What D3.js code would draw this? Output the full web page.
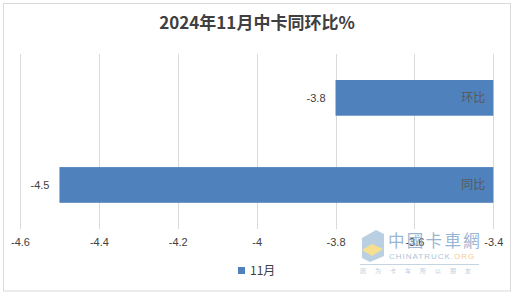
<!DOCTYPE html>
<html>
<head>
<meta charset="utf-8">
<script src="https://cdn.jsdelivr.net/npm/d3@7"></script>
<style>
  body { margin: 0; background: #fff; }
  svg text { font-family: "Noto Sans CJK SC", "Liberation Sans", sans-serif; }
</style>
</head>
<body>
<svg id="chart"></svg>
<script>
// data
var categories = ["环比", "同比"];
var values = [-3.8, -4.5];
var xTicks = [-4.6, -4.4, -4.2, -4, -3.8, -3.6, -3.4];
var seriesName = "11月";
var chartTitle = "2024年11月中卡同环比%";

var W = 516, H = 299;
var svg = d3.select("#chart").attr("width", W).attr("height", H);

svg.append("rect")
    .attr("x", 0).attr("y", 0).attr("width", W).attr("height", H)
    .attr("fill", "#fff");

// outer frame
svg.append("rect")
    .attr("x", 3.5).attr("y", 3.5)
    .attr("width", 507).attr("height", 287.5)
    .attr("fill", "none")
    .attr("stroke", "#d9d9d9");

svg.append("text")
    .attr("x", 257).attr("y", 29)
    .attr("text-anchor", "middle")
    .attr("font-size", 17)
    .attr("font-weight", "bold")
    .attr("fill", "#404040")
    .text(chartTitle);

// scales
var xScale = d3.scaleLinear()
    .domain([-4.6, -3.4])
    .range([20, 493.3]);

var yScale = d3.scaleBand()
    .domain(categories)
    .range([54.3, 228.5])
    .paddingInner(0.59)
    .paddingOuter(0.295);

// gridlines
svg.append("g").selectAll("line").data(xTicks)
    .enter().append("line")
    .attr("x1", function(d){ return Math.round(xScale(d)) + 0.5; })
    .attr("x2", function(d){ return Math.round(xScale(d)) + 0.5; })
    .attr("y1", 54)
    .attr("y2", 229)
    .attr("stroke", "#d9d9d9")
    .attr("stroke-width", 1);

// x axis labels
var xAxis = d3.axisBottom(xScale)
    .tickValues(xTicks)
    .tickSize(0)
    .tickPadding(9)
    .tickFormat(function(d){ return d3.format("")(d).replace("−", "-"); });

var xAxisG = svg.append("g")
    .attr("transform", "translate(0,229)")
    .call(xAxis);
xAxisG.select(".domain").remove();
xAxisG.selectAll("text")
    .attr("font-size", 11)
    .attr("fill", "#404040")
    .style("font-family", "'Liberation Sans', sans-serif");

// bars, anchored at the right edge of the axis
var base = xScale.domain()[1];
svg.append("g").selectAll("rect").data(values)
    .enter().append("rect")
    .attr("x", function(d){ return xScale(d); })
    .attr("y", function(d, i){ return yScale(categories[i]); })
    .attr("width", function(d){ return xScale(base) - xScale(d); })
    .attr("height", yScale.bandwidth())
    .attr("fill", "#4f81bd");

// value labels
svg.append("g").selectAll("text").data(values)
    .enter().append("text")
    .attr("x", function(d){ return xScale(d) - 10; })
    .attr("y", function(d, i){ return yScale(categories[i]) + yScale.bandwidth() / 2; })
    .attr("dy", "0.35em")
    .attr("text-anchor", "end")
    .attr("font-size", 11)
    .attr("fill", "#404040")
    .style("font-family", "'Liberation Sans', sans-serif")
    .text(function(d){ return d; });

// category labels inside bars
svg.append("g").selectAll("text").data(categories)
    .enter().append("text")
    .attr("x", xScale(base) - 8)
    .attr("y", function(d){ return yScale(d) + yScale.bandwidth() / 2; })
    .attr("dy", "0.35em")
    .attr("text-anchor", "end")
    .attr("font-size", 12)
    .attr("fill", "#595959")
    .text(function(d){ return d; });

// legend
var legendG = svg.append("g").attr("transform", "translate(238,267)");
legendG.append("rect")
    .attr("x", 0).attr("y", 0).attr("width", 7).attr("height", 7)
    .attr("fill", "#4f81bd");
legendG.append("text")
    .attr("x", 12).attr("y", 4)
    .attr("dy", "0.35em")
    .attr("font-size", 12)
    .attr("fill", "#404040")
    .text(seriesName);

// watermark (faint)
var wm = svg.append("g").attr("opacity", 0.8);
wm.append("path")
    .attr("d", "M362 238 L376 230 L384 234 L384 256 L370 262 L362 258 Z")
    .attr("fill", "#a9c4dc");
wm.append("path")
    .attr("d", "M362 250 L372 244 L383 249 L372 256 Z")
    .attr("fill", "#f4d873");
wm.append("text")
    .attr("x", 388).attr("y", 246.5)
    .attr("font-size", 16.5)
    .attr("fill", "#7fa3c8")
    .attr("letter-spacing", 2.3)
    .text("中國卡車網");
var wmSub = wm.append("text")
    .attr("x", 389).attr("y", 259)
    .attr("font-size", 8)
    .attr("letter-spacing", 1)
    .style("font-family", "'Liberation Sans', sans-serif");
wmSub.append("tspan").attr("fill", "#9bb6cf").text("CHINATRUCK.");
wmSub.append("tspan").attr("fill", "#f0c080").text("ORG");
wm.append("line")
    .attr("x1", 360).attr("x2", 479)
    .attr("y1", 264.5).attr("y2", 264.5)
    .attr("stroke", "#b8cadb");
wm.append("text")
    .attr("x", 360).attr("y", 273)
    .attr("font-size", 6)
    .attr("fill", "#b0c2d4")
    .attr("letter-spacing", 9)
    .text("因为卡车所以朋友");
</script>
</body>
</html>
